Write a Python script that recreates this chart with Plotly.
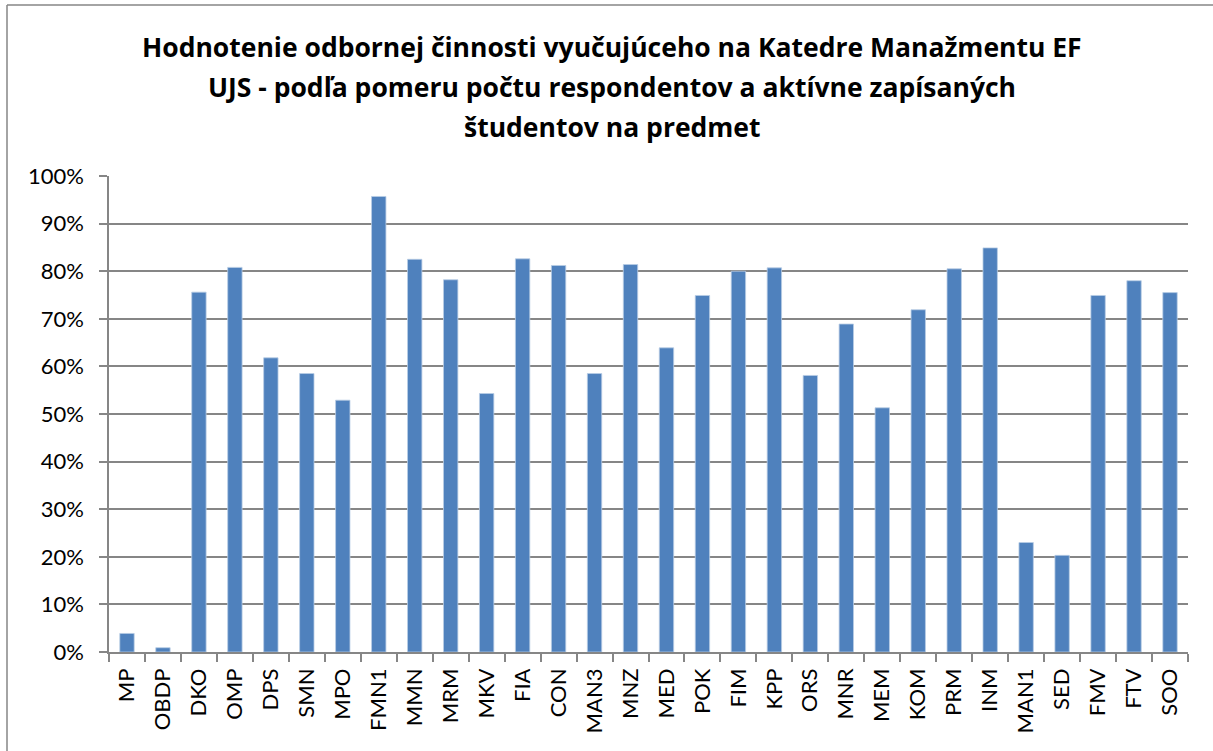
import plotly.graph_objects as go

categories = ["MP", "OBDP", "DKO", "OMP", "DPS", "SMN", "MPO", "FMN1", "MMN", "MRM",
              "MKV", "FIA", "CON", "MAN3", "MNZ", "MED", "POK", "FIM", "KPP", "ORS",
              "MNR", "MEM", "KOM", "PRM", "INM", "MAN1", "SED", "FMV", "FTV", "SOO"]
values = [0.039, 0.009, 0.756, 0.808, 0.618, 0.585, 0.529, 0.957, 0.825, 0.782,
          0.543, 0.826, 0.812, 0.585, 0.814, 0.639, 0.749, 0.800, 0.807, 0.581,
          0.689, 0.513, 0.719, 0.805, 0.849, 0.230, 0.203, 0.749, 0.780, 0.755]
tick_vals = [0, 0.1, 0.2, 0.3, 0.4, 0.5, 0.6, 0.7, 0.8, 0.9, 1.0]
tick_text = ["0%", "10%", "20%", "30%", "40%", "50%", "60%", "70%", "80%", "90%", "100%"]

title_lines = ["Hodnotenie odbornej činnosti vyučujúceho na Katedre Manažmentu EF",
               "UJS - podľa pomeru počtu respondentov a aktívne zapísaných",
               "študentov na predmet"]

W, H = 1213, 751
L, R, T, B = 109, 25, 176, 99

fig = go.Figure(go.Bar(
    x=categories, y=values,
    marker=dict(color="#4F81BD", line=dict(color="#B9CDE5", width=0.8)),
))

grid = "#868686"
fig.update_layout(
    width=W, height=H,
    margin=dict(l=L, r=R, t=T, b=B, pad=0, autoexpand=False),
    paper_bgcolor="white", plot_bgcolor="white",
    bargap=0.6,
    showlegend=False,
    font=dict(family="Lato, Open Sans, sans-serif", color="black"),
    xaxis=dict(
        type="category", tickangle=-90, tickfont=dict(size=22, family="Lato"),
        automargin=False,
        showline=True, linecolor=grid, linewidth=1.5,
        ticks="outside", ticklen=8, tickcolor=grid, tickwidth=1.5,
        tickson="boundaries", showgrid=False, ticklabelstandoff=6,
    ),
    yaxis=dict(
        range=[0, 1.0], tickvals=tick_vals, ticktext=tick_text,
        tickfont=dict(size=22, family="Lato"), automargin=False,
        showgrid=True, gridcolor=grid, gridwidth=1.5,
        showline=True, linecolor=grid, linewidth=1.5,
        ticks="outside", ticklen=8, tickcolor=grid, tickwidth=1.5,
        zeroline=False, ticklabelstandoff=11,
    ),
)

pw = W - L - R
ph = H - T - B
def px2x(px):
    return (px - L) / pw
def py2y(py):
    return 1 - (py - T) / ph

for i, line in enumerate(title_lines):
    fig.add_annotation(text=line, xref="paper", yref="paper",
                       x=px2x(612), y=py2y(47 + 40 * i), xanchor="center", yanchor="middle",
                       showarrow=False,
                       font=dict(family="Open Sans", size=26.5, color="black", weight="bold"))

fig.add_shape(type="line", xref="paper", yref="paper",
              x0=px2x(7), x1=px2x(1213), y0=py2y(5), y1=py2y(5),
              line=dict(color="#868686", width=1.5))
fig.add_shape(type="line", xref="paper", yref="paper",
              x0=px2x(7), x1=px2x(7), y0=py2y(5), y1=py2y(751),
              line=dict(color="#868686", width=1.5))

fig.write_html("out.html", config={"displayModeBar": False},
               post_script="document.body.style.margin='0px';")
